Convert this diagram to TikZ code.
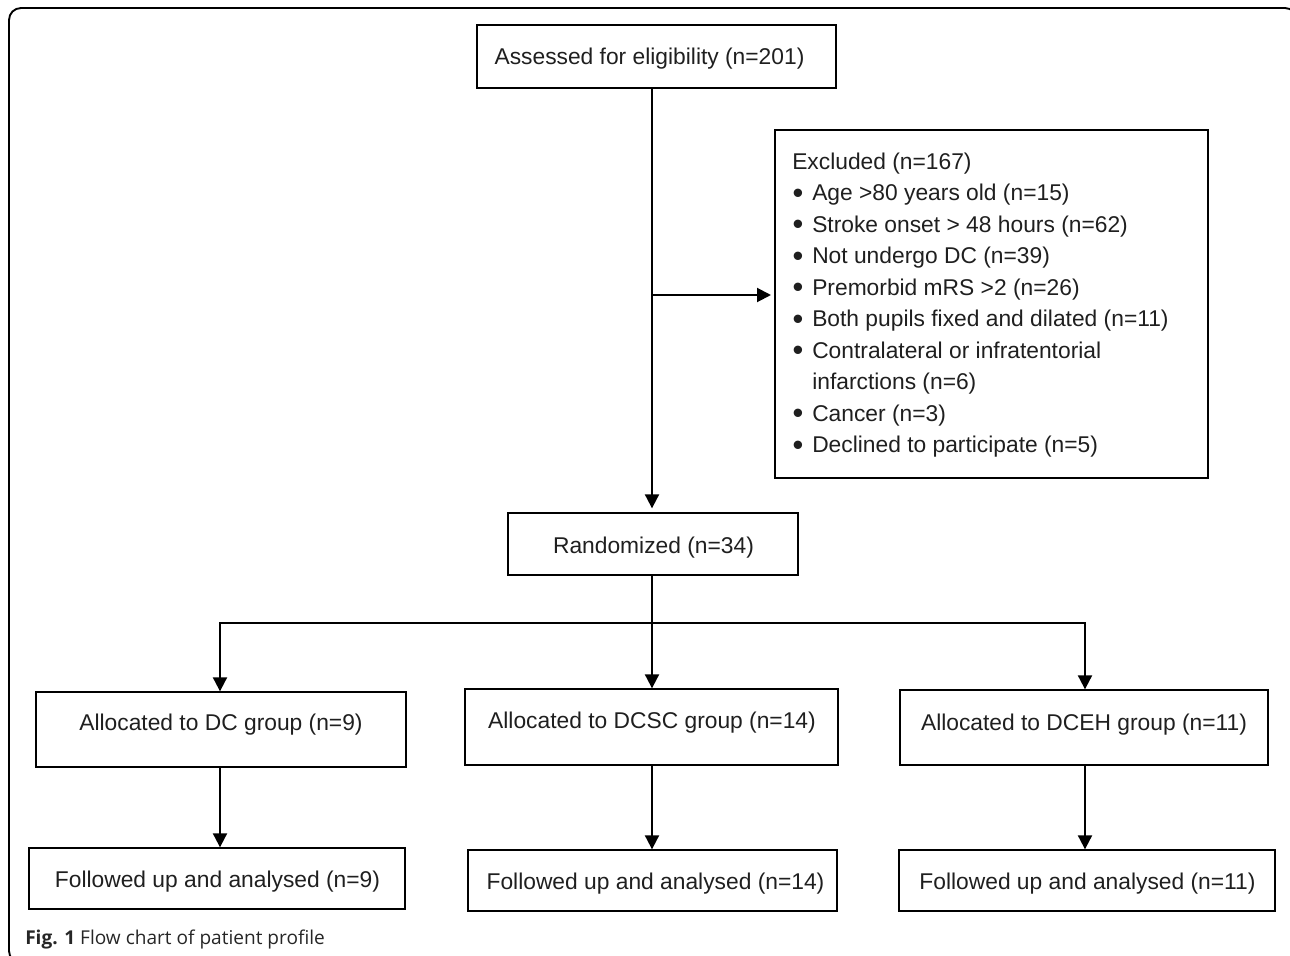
\documentclass[tikz,border=0pt]{standalone}
\usepackage{fontspec}
\setmainfont{Liberation Sans}
\newfontfamily\capfont{Open Sans}
\usetikzlibrary{arrows.meta,fit}
\newcommand{\bul}{\makebox[15pt][l]{\kern0.3pt\raisebox{-1.8pt}{\scalebox{1.35}{\textbullet}}}}
\begin{document}
\begin{tikzpicture}[x=0.75pt,y=-0.75pt,
  box/.style={draw, line width=1pt, inner sep=0pt},
  txt/.style={inner sep=0pt, anchor=base, text=black!88, font=\fontsize{17.1pt}{23.6pt}\selectfont},
  ltxt/.style={txt, anchor=base west},
  conn/.style={line width=1.5pt},
  arr/.style={conn, -{Triangle[length=10.5pt,width=10.5pt]}}]
\useasboundingbox (0,0) rectangle (1290,956);
\begin{scope}
\clip (0,0) rectangle (1290,956);
\draw[line width=1.4pt, rounded corners=9pt] (9,8) rectangle (1297,963);
\end{scope}

% boxes
\node[box, fit={(477,25) (836,88)}] (assess) {};
\node[txt] (assessT) at (649.5,65) {Assessed for eligibility (n=201)};

\node[box, fit={(775,130) (1208,478)}] (excl) {};
\node[ltxt] (e1) at (792,169.3) {Excluded (n=167)};
\node[ltxt] (e2) at (792,200.8) {\bul Age >80 years old (n=15)};
\node[ltxt] (e3) at (792,232.3) {\bul Stroke onset > 48 hours (n=62)};
\node[ltxt] (e4) at (792,263.8) {\bul Not undergo DC (n=39)};
\node[ltxt] (e5) at (792,295.3) {\bul Premorbid mRS >2 (n=26)};
\node[ltxt] (e6) at (792,326.8) {\bul Both pupils fixed and dilated (n=11)};
\node[ltxt] (e7) at (792,358.3) {\bul Contralateral or infratentorial};
\node[ltxt] (e8) at (812,389.6) {infarctions (n=6)};
\node[ltxt] (e9) at (792,421.1) {\bul Cancer (n=3)};
\node[ltxt] (e10) at (792,452.7) {\bul Declined to participate (n=5)};

\node[box, fit={(508,513) (798,575)}] (rand) {};
\node[txt] (randT) at (653.5,553) {Randomized (n=34)};

\node[box, fit={(36,692) (406,767)}] (dc) {};
\node[txt] (dcT) at (221,730) {Allocated to DC group (n=9)};
\node[box, fit={(465,689) (838,765)}] (dcsc) {};
\node[txt] (dcscT) at (652,728) {Allocated to DCSC group (n=14)};
\node[box, fit={(900,690) (1268,765)}] (dceh) {};
\node[txt] (dcehT) at (1084,730) {Allocated to DCEH group (n=11)};

\node[box, fit={(29,848) (405,909)}] (f1) {};
\node[txt] (f1T) at (217.5,887) {Followed up and analysed (n=9)};
\node[box, fit={(468,850) (837,911)}] (f2) {};
\node[txt] (f2T) at (655.5,889) {Followed up and analysed (n=14)};
\node[box, fit={(899,850) (1275,911)}] (f3) {};
\node[txt] (f3T) at (1087.5,889) {Followed up and analysed (n=11)};

\node[inner sep=0pt, anchor=base west, text=black!85, font=\capfont\fontsize{14.3pt}{17pt}\selectfont] (cap) at (25,944) {\textbf{Fig. 1} Flow chart of patient profile};

% connectors
\coordinate (vx) at (652,0);
\coordinate (b1) at (652,295);
\coordinate (j) at (652,623);
\coordinate (jl) at (220,623);
\coordinate (jr) at (1085,623);
\draw[arr, shorten >=3pt] (assess.south -| vx) -- (rand.north -| vx);
\draw[arr, shorten >=2.5pt] (b1) -- (excl.west |- b1);
\draw[conn] (rand.south -| vx) -- (j);
\draw[arr] (j) -- (jl) -- (jl |- dc.north);
\draw[arr] (j) -- (jr) -- (jr |- dceh.north);
\draw[arr] (j) -- (j |- dcsc.north);
\draw[arr] (dc.south -| jl) -- (f1.north -| jl);
\draw[arr] (dcsc.south -| vx) -- (f2.north -| vx);
\draw[arr] (dceh.south -| jr) -- (f3.north -| jr);
\end{tikzpicture}
\end{document}
